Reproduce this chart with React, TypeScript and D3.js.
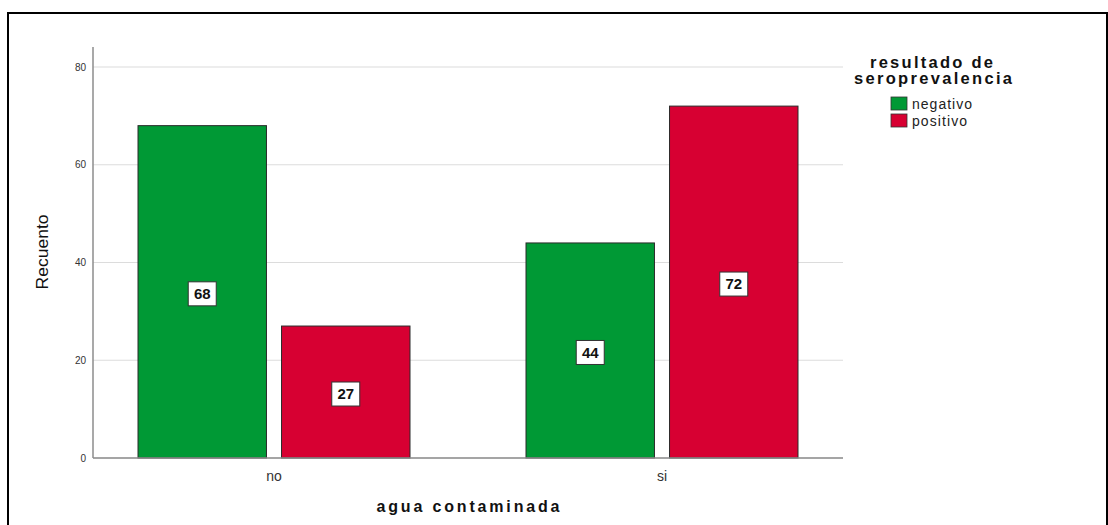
import React from "react";
import * as d3 from "d3";

const categories = ["no", "si"];
const seriesNames = ["negativo", "positivo"];
const negativo = [68, 44];
const positivo = [27, 72];
const yTicks = [0, 20, 40, 60, 80];
const seriesColors = ["#009935", "#d70032"];

const W = 1108;
const H = 525;
const plot = { left: 93, right: 843, top: 47, bottom: 458 };

export default function App() {
  const values = [negativo, positivo];
  const y = d3.scaleLinear().domain([0, 80]).range([plot.bottom, 67]);
  const x0 = d3
    .scaleBand<string>()
    .domain(categories)
    .range([plot.left, plot.right])
    .paddingInner(0.299)
    .paddingOuter(0.116);
  const x1 = d3
    .scaleBand<string>()
    .domain(seriesNames)
    .range([0, x0.bandwidth()])
    .paddingInner(0.105);

  const font = "Arial, 'Liberation Sans', sans-serif";
  const legendLabelLen = [60, 55];

  return (
    <svg
      width={W}
      height={H}
      style={{ position: "absolute", left: 0, top: 0, background: "#fff" }}
      fontFamily={font}
    >
      {/* outer frame */}
      <rect x={8} y={13} width={1099} height={H} fill="none" stroke="#000" strokeWidth={2} />

      {/* gridlines */}
      {yTicks.map((t) => (
        <line
          key={"g" + t}
          x1={plot.left}
          x2={plot.right}
          y1={y(t)}
          y2={y(t)}
          stroke="#dcdcdc"
          strokeWidth={1.2}
        />
      ))}

      {/* bars */}
      {categories.map((c, ci) =>
        seriesNames.map((s, si) => {
          const v = values[si][ci];
          const bx = (x0(c) ?? 0) + (x1(s) ?? 0);
          return (
            <rect
              key={c + s}
              x={bx}
              y={y(v)}
              width={x1.bandwidth()}
              height={y(0) - y(v)}
              fill={seriesColors[si]}
              stroke="#2a2a2a"
              strokeWidth={1}
            />
          );
        })
      )}

      {/* axes */}
      <line x1={plot.left} x2={plot.left} y1={plot.top} y2={plot.bottom} stroke="#8c8c8c" strokeWidth={1.5} />
      <line x1={plot.left} x2={plot.right} y1={plot.bottom} y2={plot.bottom} stroke="#8c8c8c" strokeWidth={1.5} />

      {yTicks.map((t) => (
        <text
          key={"t" + t}
          x={86}
          y={y(t)}
          dy="0.35em"
          textAnchor="end"
          fontSize={10}
          fill="#333"
        >
          {t}
        </text>
      ))}

      {categories.map((c) => (
        <text
          key={"c" + c}
          x={(x0(c) ?? 0) + x0.bandwidth() / 2}
          y={476}
          dy="0.35em"
          textAnchor="middle"
          fontSize={14}
          fill="#333"
        >
          {c}
        </text>
      ))}

      {/* value labels */}
      {categories.map((c, ci) =>
        seriesNames.map((s, si) => {
          const v = values[si][ci];
          const cx = (x0(c) ?? 0) + (x1(s) ?? 0) + x1.bandwidth() / 2;
          const cy = y(v / 2) + 2;
          return (
            <g key={"l" + c + s}>
              <rect x={cx - 14} y={cy - 12} width={28} height={24} fill="#fff" stroke="#333" strokeWidth={1} />
              <text
                x={cx}
                y={cy}
                dy="0.36em"
                textAnchor="middle"
                fontSize={15}
                fontWeight="bold"
                fill="#111"
              >
                {v}
              </text>
            </g>
          );
        })
      )}

      {/* axis titles */}
      <text
        x={468}
        y={512}
        textAnchor="middle"
        fontSize={16}
        fontWeight="bold"
        textLength={183}
        lengthAdjust="spacing"
        fill="#111"
      >
        agua contaminada
      </text>
      <text
        transform={`translate(48,${252}) rotate(-90)`}
        textAnchor="middle"
        fontSize={17}
        textLength={75}
        lengthAdjust="spacingAndGlyphs"
        fill="#111"
      >
        Recuento
      </text>

      {/* legend */}
      <text x={931.5} y={68} textAnchor="middle" fontSize={16.5} fontWeight="bold" textLength={123} lengthAdjust="spacing" fill="#111">
        resultado de
      </text>
      <text x={933} y={84} textAnchor="middle" fontSize={16.5} fontWeight="bold" textLength={158} lengthAdjust="spacing" fill="#111">
        seroprevalencia
      </text>
      {seriesNames.map((s, i) => (
        <g key={"lg" + s} transform={`translate(891,${97 + i * 17})`}>
          <rect x={0} y={0} width={16} height={13} fill={seriesColors[i]} stroke="#333" strokeWidth={0.8} />
          <text x={21} y={7} dy="0.35em" fontSize={14} textLength={legendLabelLen[i]} lengthAdjust="spacing" fill="#222">
            {s}
          </text>
        </g>
      ))}
    </svg>
  );
}
